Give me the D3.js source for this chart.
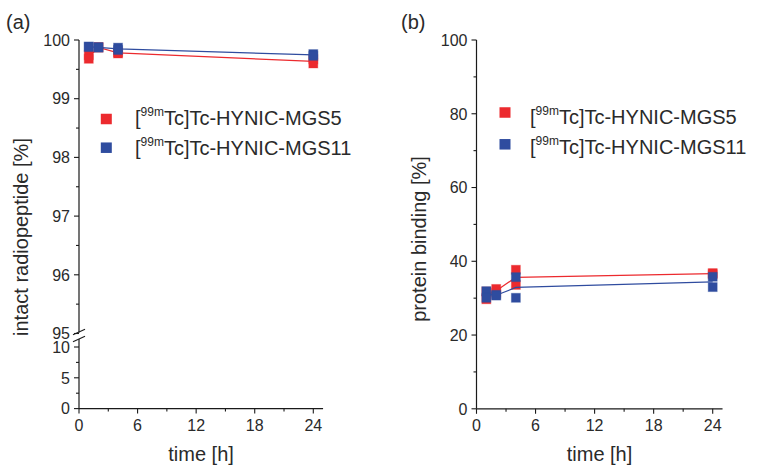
<!DOCTYPE html>
<html>
<head>
<meta charset="utf-8">
<script src="https://cdn.jsdelivr.net/npm/d3@7"></script>
<style>
  html, body { margin: 0; padding: 0; background: #fff; }
  svg { display: block; font-family: "Liberation Sans", Arial, sans-serif; }
</style>
</head>
<body>
<svg id="chart" width="767" height="465"></svg>
<script>
// Sampling times (h)
const timesH = [1, 2, 4, 24];

// (a) intact radiopeptide [%], two replicates per time point
const mgs5Intact  = [[99.74, 99.68], [99.88, 99.87], [99.79, 99.77], [99.67, 99.60]];
const mgs11Intact = [[99.89, 99.88], [99.88, 99.87], [99.87, 99.83], [99.76, 99.73]];

// (b) protein binding [%], two replicates per time point
const mgs5Binding  = [[29.7, 31.8], [32.5, 31.5], [37.7, 33.6], [36.8, 36.5]];
const mgs11Binding = [[31.9, 30.1], [30.9, 30.7], [35.7, 30.1], [35.8, 33.0]];

// Tick values
const timeTicks = [0, 6, 12, 18, 24];
const timeMinorTicks = [3, 9, 15, 21];
const intactUpperTicks = [95, 96, 97, 98, 99, 100];
const intactUpperMinor = [95.5, 96.5, 97.5, 98.5, 99.5];
const intactLowerTicks = [0, 5, 10];
const intactLowerMinor = [2.5, 7.5];
const bindingTicks = [0, 20, 40, 60, 80, 100];
const bindingMinor = [10, 30, 50, 70, 90];

// Series
const compoundNames = ["MGS5", "MGS11"];
const seriesColors = ["#ec2a2e", "#2f4c9f"];

const svg = d3.select("#chart");
const axisColor = "#1a1a1a";
const labelColor = "#2a2a2a";

function pointsOf(reps) {
  const pts = [];
  reps.forEach((r, i) => r.forEach(v => pts.push({ t: timesH[i], v })));
  return pts;
}
function meansOf(reps) {
  return reps.map((r, i) => ({ t: timesH[i], v: d3.mean(r) }));
}

function xAxis(g, x, y0) {
  g.append("line").attr("x1", x(0)).attr("x2", x(25)).attr("y1", y0).attr("y2", y0)
    .attr("stroke", axisColor).attr("stroke-width", 1.2);
  timeTicks.forEach(t => {
    g.append("line").attr("x1", x(t)).attr("x2", x(t)).attr("y1", y0).attr("y2", y0 + 5)
      .attr("stroke", axisColor).attr("stroke-width", 1.1);
    g.append("text").attr("x", x(t)).attr("y", y0 + 22).attr("text-anchor", "middle")
      .attr("font-size", 16).attr("fill", labelColor).text(t);
  });
  timeMinorTicks.forEach(t => {
    g.append("line").attr("x1", x(t)).attr("x2", x(t)).attr("y1", y0).attr("y2", y0 + 3)
      .attr("stroke", axisColor).attr("stroke-width", 1.1);
  });
  g.append("text").attr("x", (x(0) + x(25)) / 2).attr("y", 461).attr("text-anchor", "middle")
    .attr("font-size", 20).attr("fill", labelColor).text("time [h]");
}

function yTicks(g, x0, y, major, minor) {
  major.forEach(v => {
    g.append("line").attr("x1", x0 - 5).attr("x2", x0).attr("y1", y(v)).attr("y2", y(v))
      .attr("stroke", axisColor).attr("stroke-width", 1.1);
    g.append("text").attr("x", x0 - 9).attr("y", y(v)).attr("dy", "0.36em")
      .attr("text-anchor", "end").attr("font-size", 16).attr("fill", labelColor).text(v);
  });
  minor.forEach(v => {
    g.append("line").attr("x1", x0 - 3).attr("x2", x0).attr("y1", y(v)).attr("y2", y(v))
      .attr("stroke", axisColor).attr("stroke-width", 1.1);
  });
}

function yTitle(g, x, yc, text) {
  g.append("text").attr("transform", `translate(${x},${yc}) rotate(-90)`)
    .attr("text-anchor", "middle").attr("font-size", 20).attr("fill", labelColor).text(text);
}

function drawSeries(g, x, y, reps, color) {
  const line = d3.line().x(d => x(d.t)).y(d => y(d.v));
  g.append("path").datum(meansOf(reps)).attr("d", line)
    .attr("fill", "none").attr("stroke", color).attr("stroke-width", 1.2);
  const s = 9;
  g.selectAll(null).data(pointsOf(reps)).enter().append("rect")
    .attr("x", d => x(d.t) - s / 2).attr("y", d => y(d.v) - s / 2)
    .attr("width", s).attr("height", s)
    .attr("fill", color).attr("stroke", color).attr("stroke-opacity", 0.35).attr("stroke-width", 1);
}

function legend(g, sx, tx, rows) {
  rows.forEach((r, i) => {
    g.append("rect").attr("x", sx - 5.5).attr("y", r.cy - 5.25).attr("width", 11).attr("height", 10.5)
      .attr("fill", seriesColors[i]);
    const t = g.append("text").attr("x", tx).attr("y", r.base).attr("font-size", 20).attr("fill", labelColor);
    t.append("tspan").text("[");
    t.append("tspan").attr("font-size", 12).attr("dy", -9).text("99m");
    t.append("tspan").attr("dy", 9).text("Tc]Tc-HYNIC-" + compoundNames[i]);
  });
}

// ---------- Panel (a): intact radiopeptide with broken y axis ----------
{
  const g = svg.append("g");
  const x = d3.scaleLinear().domain([0, 24]).range([79, 313.3]);
  const yUp = d3.scaleLinear().domain([95, 100]).range([333.5, 40]);
  const yLo = d3.scaleLinear().domain([0, 10]).range([408.6, 347]);
  const x0 = x(0), y0 = yLo(0);

  // axis segments
  g.append("line").attr("x1", x0).attr("x2", x0).attr("y1", yUp(100)).attr("y2", yUp(95) - 1)
    .attr("stroke", axisColor).attr("stroke-width", 1.2);
  g.append("line").attr("x1", x0).attr("x2", x0).attr("y1", yLo(11.3)).attr("y2", y0)
    .attr("stroke", axisColor).attr("stroke-width", 1.2);
  // break marks
  [yUp(95) - 1.5, yLo(11.3)].forEach(yb => {
    g.append("line").attr("x1", x0 - 6).attr("x2", x0 + 6).attr("y1", yb + 2.8).attr("y2", yb - 2.8)
      .attr("stroke", axisColor).attr("stroke-width", 1.1);
  });
  yTicks(g, x0, yUp, intactUpperTicks, intactUpperMinor);
  yTicks(g, x0, yLo, intactLowerTicks, intactLowerMinor);
  xAxis(g, x, y0);
  yTitle(g, 28, 237, "intact radiopeptide [%]");

  drawSeries(g, x, yUp, mgs5Intact, seriesColors[0]);
  drawSeries(g, x, yUp, mgs11Intact, seriesColors[1]);

  legend(g, 106.3, 135, [{ cy: 119, base: 125 }, { cy: 147.7, base: 155 }]);
  g.append("text").attr("x", 6).attr("y", 29).attr("font-size", 20).attr("fill", labelColor).text("(a)");
}

// ---------- Panel (b): protein binding ----------
{
  const g = svg.append("g");
  const x = d3.scaleLinear().domain([0, 24]).range([476.5, 712.7]);
  const y = d3.scaleLinear().domain([0, 100]).range([408.8, 40]);
  const x0 = x(0), y0 = y(0);

  g.append("line").attr("x1", x0).attr("x2", x0).attr("y1", y(100)).attr("y2", y0)
    .attr("stroke", axisColor).attr("stroke-width", 1.2);
  yTicks(g, x0, y, bindingTicks, bindingMinor);
  xAxis(g, x, y0);
  yTitle(g, 426, 239, "protein binding [%]");

  drawSeries(g, x, y, mgs5Binding, seriesColors[0]);
  drawSeries(g, x, y, mgs11Binding, seriesColors[1]);

  legend(g, 505, 530, [{ cy: 112.5, base: 124 }, { cy: 144.3, base: 153.5 }]);
  g.append("text").attr("x", 401).attr("y", 29).attr("font-size", 20).attr("fill", labelColor).text("(b)");
}
</script>
</body>
</html>
